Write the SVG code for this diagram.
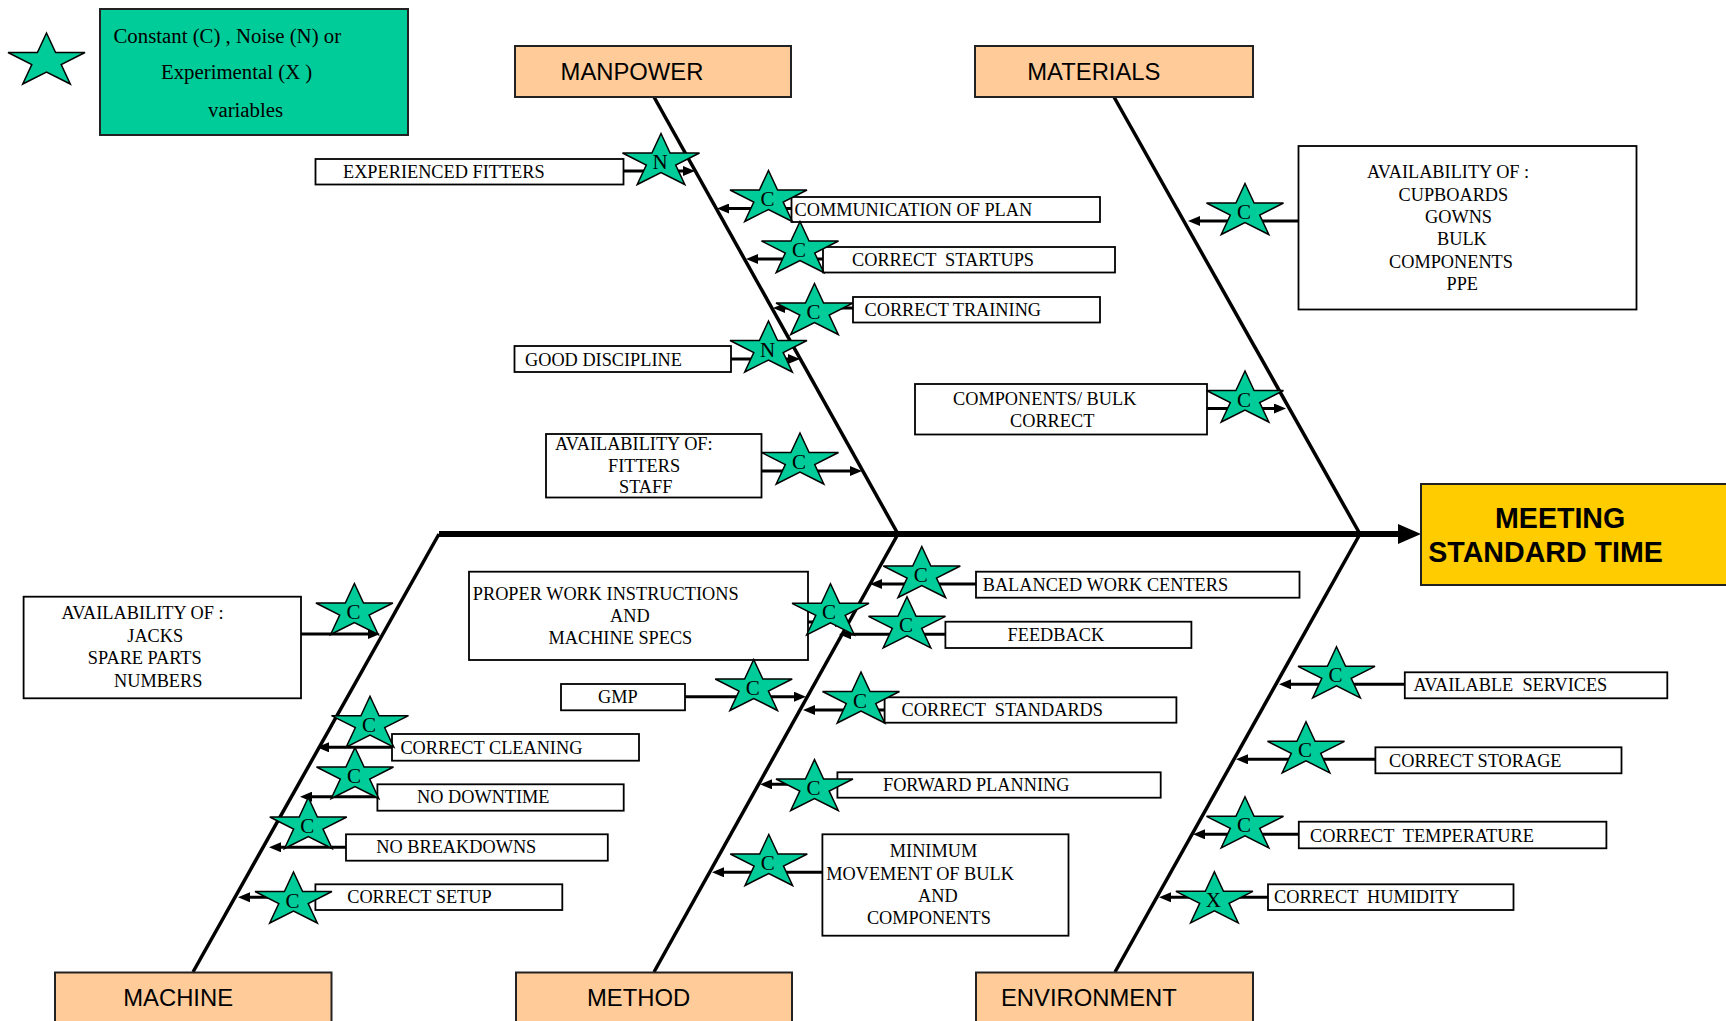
<svg xmlns="http://www.w3.org/2000/svg" xmlns:xlink="http://www.w3.org/1999/xlink" width="1726" height="1021" viewBox="0 0 1726 1021">
<style>
.bg{fill:#fff}
.cb{fill:#fff;stroke:#000;stroke-width:1.8}
.ct{font-family:'Liberation Serif','Times New Roman',serif;font-size:18.3px;fill:#000}
.hb{fill:#FFCC99;stroke:#222;stroke-width:2}
.ht{font-family:'Liberation Sans',Arial,sans-serif;font-size:23.8px;fill:#000}
.st{fill:#00CC99;stroke:#000;stroke-width:1.5}
.sl{font-family:'Liberation Serif','Times New Roman',serif;font-size:21px;fill:#000;text-anchor:middle}
.bone{stroke:#000;stroke-width:3.5;fill:none}
.arr{stroke:#000;stroke-width:3;fill:none;marker-end:url(#ah)}
.lt{font-family:'Liberation Serif','Times New Roman',serif;font-size:20.8px;fill:#000}
.et{font-family:'Liberation Sans',Arial,sans-serif;font-size:28.6px;font-weight:bold;fill:#000}
</style>
<defs>
<path id="star" d="M0,-25.5 L9.1,-6 L38.5,-6 L14.7,6 L23.8,25.5 L0,13.5 L-23.8,25.5 L-14.7,6 L-38.5,-6 L-9.1,-6 Z"/>
<marker id="ah" viewBox="0 0 12 10" refX="6" refY="5" markerWidth="12" markerHeight="10" markerUnits="userSpaceOnUse" orient="auto">
<path d="M0,0 L12,5 L0,10 Z" fill="#000"/>
</marker>
</defs>
<rect class="bg" x="0" y="0" width="1726" height="1021"/>

<g id="connectors">
<path class="bone" d="M654,97 L898,534"/>
<path class="bone" d="M1114,97 L1360,534"/>
<path class="bone" d="M439,534 L193,972"/>
<path class="bone" d="M898,534 L654,972"/>
<path class="bone" d="M1360,534 L1115,972"/>
<path d="M439,534 H1400" stroke="#000" stroke-width="6" fill="none"/>
<path d="M1398,524 L1421,534 L1398,544 Z" fill="#000"/>
<path class="arr" d="M624,171 H689"/>
<path class="arr" d="M791.5,208.5 H723"/>
<path class="arr" d="M823,259 H752"/>
<path class="arr" d="M853,308 H779"/>
<path class="arr" d="M731,359 H794"/>
<path class="arr" d="M761.5,471 H856"/>
<path class="arr" d="M1298,221 H1194"/>
<path class="arr" d="M1207,408.5 H1280"/>
<path class="arr" d="M301,634 H374"/>
<path class="arr" d="M392,747.3 H323"/>
<path class="arr" d="M377.4,796.7 H306"/>
<path class="arr" d="M346,847.3 H275"/>
<path class="arr" d="M315.4,897.3 H244"/>
<path class="arr" d="M808,622 H841"/>
<path class="arr" d="M685,696.7 H800"/>
<path class="arr" d="M976,584 H876"/>
<path class="arr" d="M945.4,634.3 H845"/>
<path class="arr" d="M884.6,710 H809"/>
<path class="arr" d="M837.4,784.3 H766"/>
<path class="arr" d="M822.4,872.3 H718"/>
<path class="arr" d="M1404.8,684.3 H1285"/>
<path class="arr" d="M1375.4,759.3 H1242"/>
<path class="arr" d="M1298.8,834.3 H1199"/>
<path class="arr" d="M1268,897.3 H1165"/>
</g>

<g id="legend">
<use href="#star" class="st" x="46.5" y="58.5"/>
<rect x="100" y="9" width="308" height="126" fill="#00CC99" stroke="#222" stroke-width="2"/>
<text class="lt" x="113.5" y="43">Constant (C) , Noise (N) or</text>
<text class="lt" x="161" y="79">Experimental (X )</text>
<text class="lt" x="208" y="117">variables</text>
</g>

<g id="manpower"><rect class="hb" x="515" y="46" width="276" height="51"/><text class="ht" x="560.6" y="80">MANPOWER</text></g>
<g id="materials"><rect class="hb" x="975" y="46" width="278" height="51"/><text class="ht" x="1027.3" y="79.6">MATERIALS</text></g>
<g id="machine"><rect class="hb" x="55" y="972.5" width="276.5" height="55"/><text class="ht" x="123.3" y="1006">MACHINE</text></g>
<g id="method"><rect class="hb" x="516" y="972.5" width="276" height="55"/><text class="ht" x="587" y="1005.5">METHOD</text></g>
<g id="environment"><rect class="hb" x="976" y="972.5" width="277" height="55"/><text class="ht" x="1001" y="1005.5">ENVIRONMENT</text></g>

<g id="effect">
<rect x="1421" y="484" width="320" height="101" fill="#FFCC00" stroke="#222" stroke-width="2"/>
<text class="et" x="1495" y="528.3">MEETING</text>
<text class="et" x="1428.3" y="562.3">STANDARD TIME</text>
</g>

<g id="experienced-fitters"><rect class="cb" x="315.5" y="159" width="308" height="25.5"/><text class="ct" x="343" y="178">EXPERIENCED FITTERS</text><use href="#star" class="st" x="661" y="159"/><text class="sl" x="660" y="168.5">N</text></g>
<g id="communication-of-plan"><rect class="cb" x="791.5" y="197" width="308.5" height="25"/><text class="ct" x="794.5" y="215.5">COMMUNICATION OF PLAN</text><use href="#star" class="st" x="768.5" y="196"/><text class="sl" x="767.5" y="206">C</text></g>
<g id="correct-startups"><rect class="cb" x="823" y="247" width="292" height="25.5"/><text class="ct" x="852" y="266" xml:space="preserve">CORRECT  STARTUPS</text><use href="#star" class="st" x="800" y="247"/><text class="sl" x="799" y="257">C</text></g>
<g id="correct-training"><rect class="cb" x="853" y="297" width="247" height="25.5"/><text class="ct" x="864.5" y="316">CORRECT TRAINING</text><use href="#star" class="st" x="814.5" y="309"/><text class="sl" x="813.5" y="319">C</text></g>
<g id="good-discipline"><rect class="cb" x="514.5" y="346" width="216.5" height="26"/><text class="ct" x="525" y="366">GOOD DISCIPLINE</text><use href="#star" class="st" x="768.5" y="346.5"/><text class="sl" x="767.5" y="356.5">N</text></g>
<g id="availability-fitters"><rect class="cb" x="546" y="434" width="215.5" height="63.5"/><text class="ct" x="555" y="450">AVAILABILITY OF:</text><text class="ct" x="608" y="471.7">FITTERS</text><text class="ct" x="619" y="492.7">STAFF</text><use href="#star" class="st" x="800" y="458.5"/><text class="sl" x="799" y="468.5">C</text></g>

<g id="availability-cupboards"><rect class="cb" x="1298.5" y="146" width="338" height="163.5"/><text class="ct" x="1367" y="178">AVAILABILITY OF :</text><text class="ct" x="1398.5" y="201">CUPBOARDS</text><text class="ct" x="1425" y="222.7">GOWNS</text><text class="ct" x="1437" y="245">BULK</text><text class="ct" x="1389" y="268">COMPONENTS</text><text class="ct" x="1446.5" y="289.7">PPE</text><use href="#star" class="st" x="1245" y="209"/><text class="sl" x="1244" y="219">C</text></g>
<g id="components-bulk-correct"><rect class="cb" x="915" y="384" width="292" height="50.5"/><text class="ct" x="953" y="405">COMPONENTS/ BULK</text><text class="ct" x="1010" y="426.7">CORRECT</text><use href="#star" class="st" x="1245" y="396.5"/><text class="sl" x="1244" y="406.5">C</text></g>

<g id="availability-jacks"><rect class="cb" x="23.6" y="596.7" width="277.4" height="101.6"/><text class="ct" x="61.4" y="619.3">AVAILABILITY OF :</text><text class="ct" x="127.3" y="641.7">JACKS</text><text class="ct" x="87.8" y="664">SPARE PARTS</text><text class="ct" x="114" y="686.7">NUMBERS</text><use href="#star" class="st" x="354.4" y="609"/><text class="sl" x="353.4" y="619">C</text></g>
<g id="correct-cleaning"><rect class="cb" x="392" y="734" width="247" height="26.7"/><text class="ct" x="400.4" y="754">CORRECT CLEANING</text><use href="#star" class="st" x="370" y="721.7"/><text class="sl" x="369" y="731.7">C</text></g>
<g id="no-downtime"><rect class="cb" x="377.4" y="784.3" width="246.3" height="26.4"/><text class="ct" x="417" y="803.3">NO DOWNTIME</text><use href="#star" class="st" x="355" y="773"/><text class="sl" x="354" y="783">C</text></g>
<g id="no-breakdowns"><rect class="cb" x="346" y="834.3" width="261.8" height="26.4"/><text class="ct" x="376.3" y="853.3">NO BREAKDOWNS</text><use href="#star" class="st" x="308.3" y="823"/><text class="sl" x="307.3" y="833">C</text></g>
<g id="correct-setup"><rect class="cb" x="315.4" y="884.3" width="246.9" height="25.7"/><text class="ct" x="347.2" y="903.3">CORRECT SETUP</text><use href="#star" class="st" x="293.5" y="897.5"/><text class="sl" x="292.5" y="907.5">C</text></g>

<g id="proper-work-instructions"><rect class="cb" x="469" y="571.7" width="339" height="88.3"/><text class="ct" x="472.8" y="600">PROPER WORK INSTRUCTIONS</text><text class="ct" x="610" y="621.7">AND</text><text class="ct" x="548.5" y="644">MACHINE SPECS</text><use href="#star" class="st" x="830.5" y="609.3"/><text class="sl" x="829" y="619.3">C</text></g>
<g id="gmp"><rect class="cb" x="561" y="684" width="124" height="26.3"/><text class="ct" x="598" y="703.3">GMP</text><use href="#star" class="st" x="753.7" y="685"/><text class="sl" x="752.7" y="695">C</text></g>
<g id="balanced-work-centers"><rect class="cb" x="976" y="571.7" width="323.5" height="26"/><text class="ct" x="982.7" y="590.7">BALANCED WORK CENTERS</text><use href="#star" class="st" x="921.8" y="572"/><text class="sl" x="920.8" y="582">C</text></g>
<g id="feedback"><rect class="cb" x="945.4" y="621.7" width="246" height="26.3"/><text class="ct" x="1007.6" y="640.7">FEEDBACK</text><use href="#star" class="st" x="907" y="622.3"/><text class="sl" x="906" y="632.3">C</text></g>
<g id="correct-standards"><rect class="cb" x="884.6" y="697.3" width="291.8" height="25.4"/><text class="ct" x="901.6" y="716" xml:space="preserve">CORRECT  STANDARDS</text><use href="#star" class="st" x="861" y="697.5"/><text class="sl" x="860" y="707.5">C</text></g>
<g id="forward-planning"><rect class="cb" x="837.4" y="772.3" width="323.3" height="25.4"/><text class="ct" x="883" y="790.7">FORWARD PLANNING</text><use href="#star" class="st" x="814.5" y="785"/><text class="sl" x="813.5" y="795">C</text></g>
<g id="minimum-movement"><rect class="cb" x="822.4" y="834.3" width="246.1" height="101.4"/><text class="ct" x="889.8" y="857.3">MINIMUM</text><text class="ct" x="826.3" y="880">MOVEMENT OF BULK</text><text class="ct" x="918" y="902.3">AND</text><text class="ct" x="866.9" y="924.3">COMPONENTS</text><use href="#star" class="st" x="768.8" y="860"/><text class="sl" x="767.8" y="870">C</text></g>

<g id="available-services"><rect class="cb" x="1404.8" y="672.3" width="262.5" height="26"/><text class="ct" x="1413.4" y="691" xml:space="preserve">AVAILABLE  SERVICES</text><use href="#star" class="st" x="1336.5" y="672.3"/><text class="sl" x="1335.5" y="682.3">C</text></g>
<g id="correct-storage"><rect class="cb" x="1375.4" y="747.3" width="246.1" height="26"/><text class="ct" x="1389" y="766.7">CORRECT STORAGE</text><use href="#star" class="st" x="1306" y="747.3"/><text class="sl" x="1305" y="757.3">C</text></g>
<g id="correct-temperature"><rect class="cb" x="1298.8" y="821.7" width="307.6" height="26.6"/><text class="ct" x="1310" y="841.7" xml:space="preserve">CORRECT  TEMPERATURE</text><use href="#star" class="st" x="1245" y="822.3"/><text class="sl" x="1244" y="832.3">C</text></g>
<g id="correct-humidity"><rect class="cb" x="1268" y="884.3" width="245.5" height="25.7"/><text class="ct" x="1274" y="903.3" xml:space="preserve">CORRECT  HUMIDITY</text><use href="#star" class="st" x="1214.4" y="897.3"/><text class="sl" x="1213.4" y="907.3">X</text></g>
</svg>
